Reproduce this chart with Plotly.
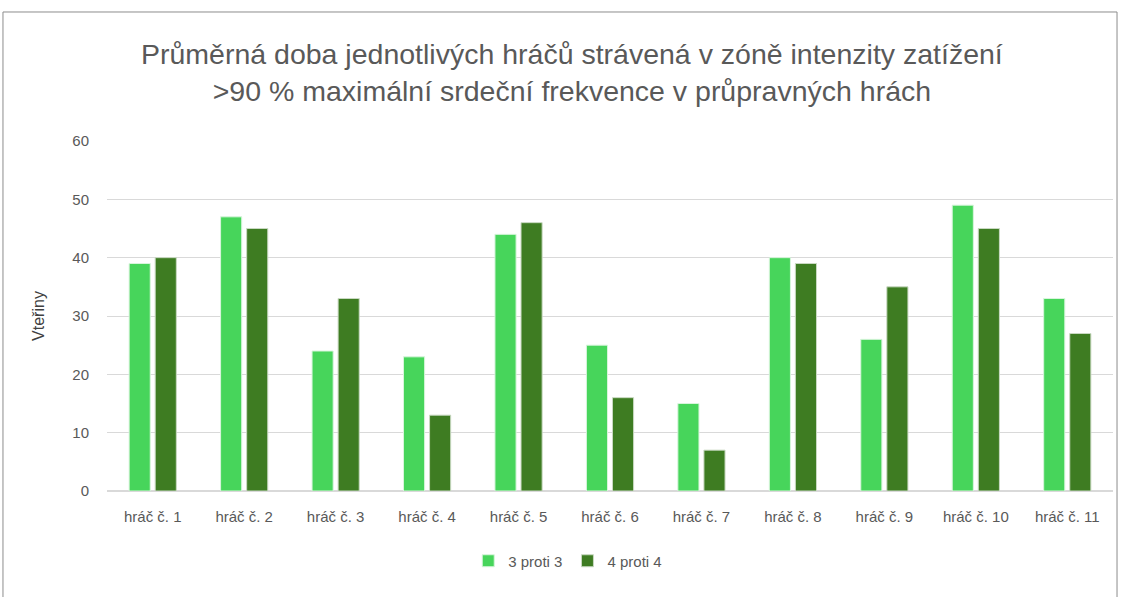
import plotly.graph_objects as go

# ── Data ─────────────────────────────────────────────────────────────────────
hraci = ["hráč č. 1", "hráč č. 2", "hráč č. 3", "hráč č. 4", "hráč č. 5", "hráč č. 6",
         "hráč č. 7", "hráč č. 8", "hráč č. 9", "hráč č. 10", "hráč č. 11"]
hra_3v3 = [39, 47, 24, 23, 44, 25, 15, 40, 26, 49, 33]
hra_4v4 = [40, 45, 33, 13, 46, 16, 7, 39, 35, 45, 27]
y_ticks = [0, 10, 20, 30, 40, 50, 60]

TITLE = ("Průměrná doba jednotlivých hráčů strávená v zóně intenzity zatížení<br>"
         ">90 % maximální srdeční frekvence v průpravných hrách")

fig = go.Figure()
fig.add_trace(go.Bar(name="3 proti 3", x=hraci, y=hra_3v3,
                     marker=dict(color="#47D55B", line=dict(color="#D8F5DC", width=1))))
fig.add_trace(go.Bar(name="4 proti 4", x=hraci, y=hra_4v4,
                     marker=dict(color="#3E7C22", line=dict(color="#C9D9C2", width=1))))

# chart-area frame (as in the spreadsheet export)
fig.add_shape(type="rect", xref="paper", yref="paper",
              x0=-0.1034, x1=1.004, y0=-0.32, y1=1.3686,
              line=dict(color="#8C8C8C", width=1), layer="below")

fig.update_layout(
    width=1128, height=597,
    margin=dict(l=107, r=15, t=141, b=106),
    paper_bgcolor="white", plot_bgcolor="white",
    barmode="group", bargap=0.43, bargroupgap=0.19,
    title=dict(text=TITLE, x=0.507, xanchor="center", y=0.893, yanchor="middle",
               font=dict(family="Liberation Sans, Arial, sans-serif",
                         size=28.5, color="#595959")),
    font=dict(family="Liberation Sans, Arial, sans-serif", color="#595959"),
    showlegend=True,
    legend=dict(orientation="h", x=0.458, xanchor="center", y=-0.2, yanchor="middle",
                font=dict(size=15, color="#595959"), itemwidth=30),
    xaxis=dict(tickfont=dict(size=15, color="#595959"), showline=False, ticks="",
               ticklabelstandoff=15),
    yaxis=dict(range=[0, 60], tickvals=y_ticks, showgrid=True, gridcolor="#D9D9D9",
               gridwidth=1, zeroline=True, zerolinecolor="#D9D9D9",
               tickfont=dict(size=15, color="#595959"), ticklabelstandoff=17,
               title=dict(text="Vteřiny", font=dict(size=16, color="#404040"), standoff=23)),
)

fig.write_html("out.html", config={"displayModeBar": False},
               post_script="document.body.style.margin='0';")
